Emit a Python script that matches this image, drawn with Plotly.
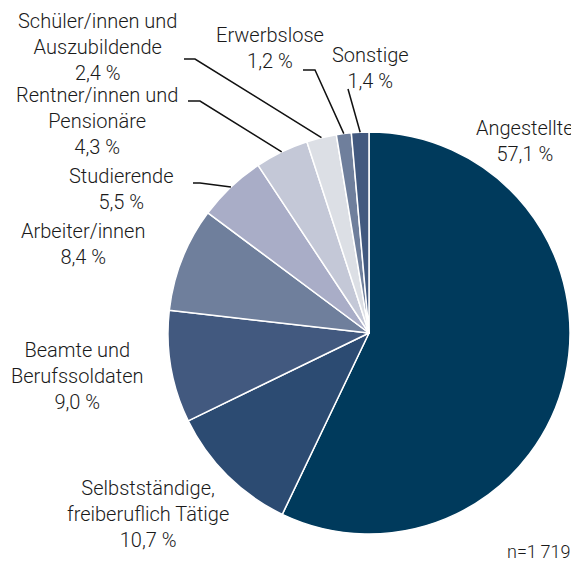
import math
import plotly.graph_objects as go

# the page body has an 8px margin, so the figure is drawn 8px in from the top-left
OFF = 8
W, H = 579 - OFF, 565 - OFF

categories = ["Angestellte", "Selbstständige, freiberuflich Tätige", "Beamte und Berufssoldaten",
              "Arbeiter/innen", "Studierende", "Rentner/innen und Pensionäre",
              "Schüler/innen und Auszubildende", "Erwerbslose", "Sonstige"]
values = [57.1, 10.7, 9.0, 8.4, 5.5, 4.3, 2.4, 1.2, 1.4]
label_texts = ["Angestellte", "Selbstständige,<br>freiberuflich Tätige", "Beamte und<br>Berufssoldaten",
               "Arbeiter/innen", "Studierende", "Rentner/innen und<br>Pensionäre",
               "Schüler/innen und<br>Auszubildende", "Erwerbslose", "Sonstige"]
colors = ["#003A5C", "#2C4B72", "#42597F", "#6F7F9C", "#A9ADC7",
          "#C4C8D7", "#DCDFE5", "#6F7F9C", "#42597F"]
n_total = "n=1\u2009719"

# pie geometry (window pixels)
CX, CY, R = 369, 333, 201

def px(x):
    return (x - OFF) / W

def py(y):
    return 1 - (y - OFF) / H

FONT = "Roboto, Liberation Sans, Arial, sans-serif"

fig = go.Figure(go.Pie(
    labels=categories, values=values, sort=False, direction="clockwise", rotation=0,
    marker=dict(colors=colors, line=dict(color="white", width=1.5)),
    textinfo="none", hoverinfo="label+percent", showlegend=False,
    domain=dict(x=[px(CX - R), px(CX + R)], y=[py(CY + R), py(CY - R)]),
))

# label placement (window-pixel centres of each text block)
label_pos = [(525, 141), (148, 514), (77, 376), (83, 244), (122, 189),
             (97, 121), (97, 47), (270, 48), (370, 68)]
# leader line elbows: (elbow x, elbow y, end x) or None
leaders = [None, None, None, None, (200, 183, 193), (200, 101, 188),
           (195, 59, 184), (315, 70, 303), (348, 89, None)]

def fmt(v):
    return f"{v:.1f}".replace(".", ",") + " %"

annotations = []
shapes = []
cum = 0.0
for i, v in enumerate(values):
    mid = (cum + v / 2) / sum(values) * 2 * math.pi
    cum += v
    lx, ly = label_pos[i]
    annotations.append(dict(
        x=px(lx), y=py(ly), xref="paper", yref="paper", xanchor="center", yanchor="middle",
        text=label_texts[i] + "<br>" + fmt(v), showarrow=False, align="center",
        font=dict(size=20, color="#1a1a1a", family=FONT, weight=300),
    ))
    if leaders[i]:
        ex, ey, endx = leaders[i]
        sx = CX + R * math.sin(mid)
        sy = CY - R * math.cos(mid)
        path = f"M {px(sx)} {py(sy)} L {px(ex)} {py(ey)}"
        if endx is not None:
            path += f" L {px(endx)} {py(ey)}"
        shapes.append(dict(type="path", xref="paper", yref="paper", path=path,
                           line=dict(color="#111111", width=1.5)))

annotations.append(dict(
    x=px(538), y=py(551), xref="paper", yref="paper", xanchor="center", yanchor="middle",
    text=n_total, showarrow=False,
    font=dict(size=18, color="#1a1a1a", family=FONT, weight=300),
))

fig.update_layout(
    width=W, height=H, margin=dict(l=0, r=0, t=0, b=0),
    paper_bgcolor="white", plot_bgcolor="white",
    annotations=annotations, shapes=shapes,
)
fig.write_html("out.html")
